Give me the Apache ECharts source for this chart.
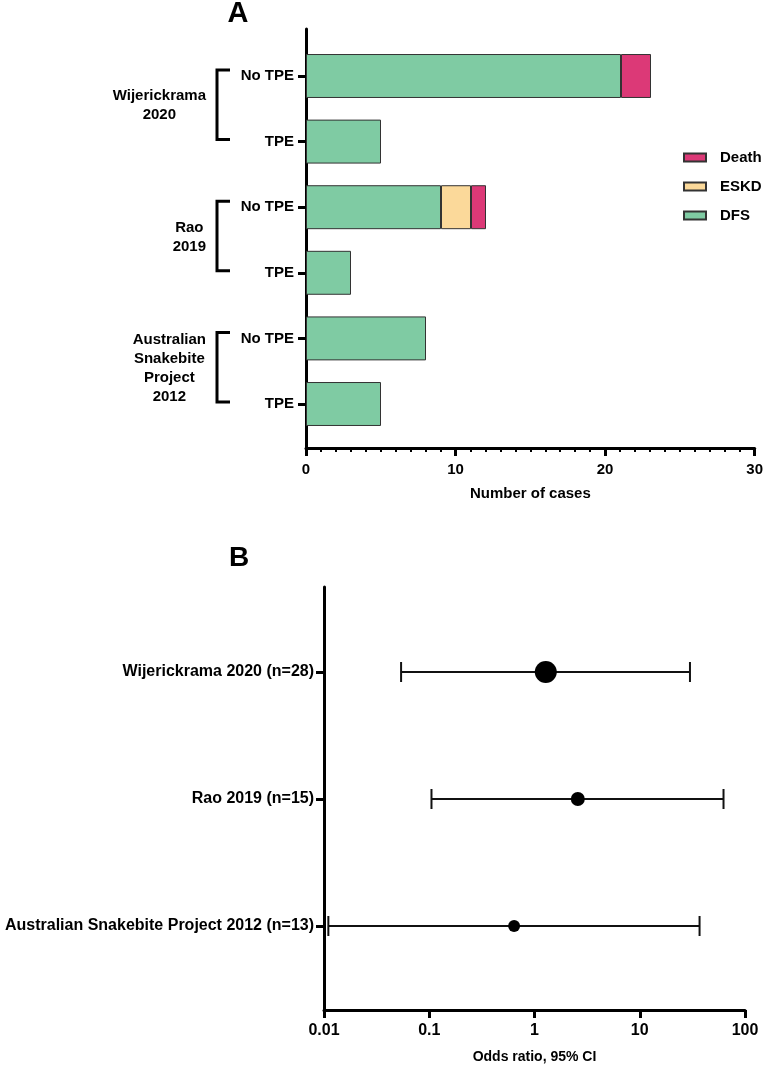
<!DOCTYPE html>
<html><head><meta charset="utf-8">
<script src="https://cdn.jsdelivr.net/npm/echarts@6/dist/echarts.min.js"></script>
<style>html,body{margin:0;padding:0;background:#fff}#c{width:766px;height:1066px}</style>
</head><body><div id="c"></div>
<script>
// ---- Panel A data ----
const groupsA = ['Wijerickrama\n2020', 'Rao\n2019', 'Australian\nSnakebite\nProject\n2012'];
const rowsA = ['No TPE', 'TPE', 'No TPE', 'TPE', 'No TPE', 'TPE'];
const dfsA = [21, 5, 9, 3, 8, 5];
const eskdA = [0, 0, 2, 0, 0, 0];
const deathA = [2, 0, 1, 0, 0, 0];
const legendA = ['Death', 'ESKD', 'DFS'];
const axisNameA = 'Number of cases';

// ---- Panel B data ----
const studiesB = ['Wijerickrama 2020 (n=28)', 'Rao 2019 (n=15)', 'Australian Snakebite Project 2012 (n=13)'];
const orB = [1.28, 2.58, 0.64];
const loB = [0.054, 0.105, 0.011];
const hiB = [30, 62.5, 37];
const markerSizeB = [22, 14, 12];
const axisNameB = 'Odds ratio, 95% CI';

const FONT = '"Liberation Sans", Arial, Helvetica, sans-serif';
const colors = { DFS: '#7fcba3', ESKD: '#fbd99a', Death: '#dc3977' };
const chart = echarts.init(document.getElementById('c'), null, { renderer: 'canvas' });

const rowKeys = rowsA.map((r, i) => 'r' + i);
const nz = arr => arr.map(v => (v === 0 ? '-' : v));
const barCommon = {
  type: 'bar', stack: 'cases', xAxisIndex: 1, yAxisIndex: 1,
  barCategoryGap: '33%',
  itemStyle: { borderColor: '#333', borderWidth: 1 },
  emphasis: { disabled: true }
};

const txt = { fontFamily: FONT, fontWeight: 'bold', color: '#000' };

chart.setOption({
  animation: false,
  backgroundColor: '#fff',
  textStyle: { fontFamily: FONT },
  legend: {
    data: legendA, orient: 'vertical', left: 678, top: 145, itemWidth: 22, itemHeight: 8, itemGap: 14,
    icon: 'rect', selectedMode: false,
    textStyle: Object.assign({ fontSize: 15, padding: [0, 0, 0, 9] }, txt)
  },
  grid: [
    { left: 306, right: 10, top: 29, height: 419 },     // A outer (axes)
    { left: 306, right: 10, top: 43.2, height: 393.6 }, // A inner (bars)
    { left: 324, right: 21, top: 587, height: 423 },    // B outer (axes)
    { left: 324, right: 21, top: 608.5, height: 381 }   // B inner (points)
  ],
  xAxis: [
    { gridIndex: 0, type: 'value', min: 0, max: 30, interval: 10,
      name: axisNameA, nameLocation: 'middle', nameGap: 38,
      nameTextStyle: Object.assign({ fontSize: 15 }, txt),
      axisLine: { lineStyle: { color: '#000', width: 3 } },
      axisTick: { length: 8, lineStyle: { color: '#000', width: 3 } },
      minorTick: { show: true, splitNumber: 10, length: 4, lineStyle: { color: '#000', width: 2 } },
      axisLabel: Object.assign({ fontSize: 15, margin: 14 }, txt),
      splitLine: { show: false } },
    { gridIndex: 1, type: 'value', min: 0, max: 30, show: false },
    { gridIndex: 2, type: 'log', logBase: 10, min: 0.01, max: 100,
      name: axisNameB, nameLocation: 'middle', nameGap: 40,
      nameTextStyle: Object.assign({ fontSize: 14 }, txt),
      axisLine: { lineStyle: { color: '#000', width: 3 } },
      axisTick: { length: 8, lineStyle: { color: '#000', width: 3 } },
      axisLabel: Object.assign({ fontSize: 16, margin: 13, formatter: v => String(Number(v.toPrecision(3))) }, txt),
      splitLine: { show: false } },
    { gridIndex: 3, type: 'log', logBase: 10, min: 0.01, max: 100, show: false }
  ],
  yAxis: [
    { gridIndex: 0, type: 'value', min: 0, max: 1,
      axisLine: { show: true, lineStyle: { color: '#000', width: 3 } },
      axisTick: { show: false }, axisLabel: { show: false }, splitLine: { show: false } },
    { gridIndex: 1, type: 'category', inverse: true, data: rowKeys,
      axisLine: { show: false },
      axisTick: { show: true, alignWithLabel: true, length: 8, lineStyle: { color: '#000', width: 3 } },
      axisLabel: Object.assign({ fontSize: 15, margin: 12, formatter: (v, i) => rowsA[i] }, txt) },
    { gridIndex: 2, type: 'value', min: 0, max: 1,
      axisLine: { show: true, lineStyle: { color: '#000', width: 3 } },
      axisTick: { show: false }, axisLabel: { show: false }, splitLine: { show: false } },
    { gridIndex: 3, type: 'category', inverse: true, data: studiesB,
      axisLine: { show: false },
      axisTick: { show: true, alignWithLabel: true, length: 8, lineStyle: { color: '#000', width: 3 } },
      axisLabel: Object.assign({ fontSize: 16, margin: 10 }, txt) }
  ],
  series: [
    Object.assign({}, barCommon, { name: 'DFS', data: nz(dfsA), itemStyle: Object.assign({}, barCommon.itemStyle, { color: colors.DFS }) }),
    Object.assign({}, barCommon, { name: 'ESKD', data: nz(eskdA), itemStyle: Object.assign({}, barCommon.itemStyle, { color: colors.ESKD }) }),
    Object.assign({}, barCommon, { name: 'Death', data: nz(deathA), itemStyle: Object.assign({}, barCommon.itemStyle, { color: colors.Death }) }),
    { type: 'custom', xAxisIndex: 3, yAxisIndex: 3, z: 2,
      data: loB.map((lo, i) => [lo, hiB[i], i]),
      encode: { x: [0, 1], y: 2 },
      renderItem: (params, api) => {
        const y = api.value(2);
        const a = api.coord([api.value(0), y]);
        const b = api.coord([api.value(1), y]);
        const h = 10;
        const st = { stroke: '#111', lineWidth: 2 };
        return { type: 'group', children: [
          { type: 'line', shape: { x1: a[0], y1: a[1], x2: b[0], y2: b[1] }, style: st },
          { type: 'line', shape: { x1: a[0], y1: a[1] - h, x2: a[0], y2: a[1] + h }, style: st },
          { type: 'line', shape: { x1: b[0], y1: b[1] - h, x2: b[0], y2: b[1] + h }, style: st }
        ] };
      } },
    { type: 'scatter', xAxisIndex: 3, yAxisIndex: 3, z: 5,
      data: orB.map((v, i) => [v, i, markerSizeB[i]]),
      symbol: 'circle', symbolSize: d => d[2],
      itemStyle: { color: '#000', opacity: 1 } }
  ]
});

// ---- Annotations: group brackets & panel letters ----
const ctx = document.createElement('canvas').getContext('2d');
ctx.font = 'bold 15px ' + FONT;
const graphics = [
  { type: 'text', x: 238, y: 14, style: { text: 'A', fontSize: 29, fontWeight: 'bold', fontFamily: FONT, fill: '#000', textAlign: 'center', textVerticalAlign: 'middle' } },
  { type: 'text', x: 239, y: 558, style: { text: 'B', fontSize: 28, fontWeight: 'bold', fontFamily: FONT, fill: '#000', textAlign: 'center', textVerticalAlign: 'middle' } }
];
groupsA.forEach((g, gi) => {
  const y1 = chart.convertToPixel({ xAxisIndex: 1, yAxisIndex: 1 }, [0, gi * 2])[1];
  const y2 = chart.convertToPixel({ xAxisIndex: 1, yAxisIndex: 1 }, [0, gi * 2 + 1])[1];
  const top = y1 - 6, bot = y2 - 2;
  graphics.push({ type: 'polyline', shape: { points: [[230, top], [217, top], [217, bot], [230, bot]] },
    style: { stroke: '#000', lineWidth: 3, fill: null } });
  const lines = g.split('\n');
  const w = Math.max(...lines.map(l => ctx.measureText(l).width));
  graphics.push({ type: 'text', x: 206 - w / 2, y: (y1 + y2) / 2 - 3,
    style: { text: g, fontSize: 15, fontWeight: 'bold', fontFamily: FONT, fill: '#000', textAlign: 'center', textVerticalAlign: 'middle', lineHeight: 19 } });
});
chart.setOption({ graphic: graphics });
</script></body></html>
